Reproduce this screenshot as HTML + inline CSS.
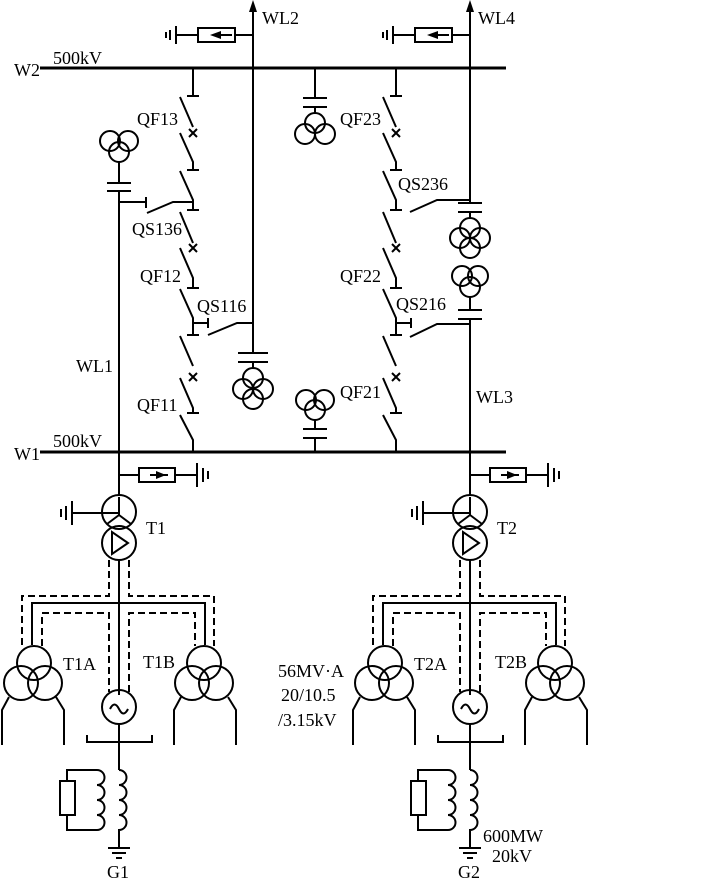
<!DOCTYPE html>
<html><head><meta charset="utf-8"><style>
html,body{margin:0;padding:0;background:#fff}
svg{display:block}
text{font-family:"Liberation Serif",serif;font-size:18px;fill:#000}
</style></head><body>
<svg width="720" height="882" viewBox="0 0 720 882" xmlns="http://www.w3.org/2000/svg">
<defs>
<g id="bot" fill="none" stroke="#000" stroke-width="2">
  <path d="M119,452 V495"/>
  <path d="M119,475 H139 M175,475 H197"/>
  <rect x="139" y="468" width="36" height="14"/>
  <path d="M150,475 H168" />
  <polygon points="166,475 156,471 156,479" fill="#000" stroke="none"/>
  <path d="M197,463 V487 M203,468 V482 M208,471 V479"/>
  <circle cx="119" cy="512" r="17"/>
  <circle cx="119" cy="543" r="17"/>
  <path d="M119,497 V515 L107,524 M119,515 L131,524"/>
  <path d="M119,513 H72 M72,501 V525 M66,506 V520 M61,509 V517"/>
  <polygon points="112,532 112,554 128,543"/>
  <path d="M119,560 V695"/>
  <path d="M32,645 V603 H205 V645"/>
  <path stroke-dasharray="7,4" d="M109,560 V596 H22 V646 M129,560 V596 H214 V646 M42,646 V613 H109 V692 M129,692 V613 H195 V646"/>
  <circle cx="34" cy="663" r="17"/>
  <circle cx="21" cy="683" r="17"/>
  <circle cx="45" cy="683" r="17"/>
  <path d="M9,697 L2,710 V745 M56,697 L64,710 V745"/>
  <circle cx="204" cy="663" r="17"/>
  <circle cx="192" cy="683" r="17"/>
  <circle cx="216" cy="683" r="17"/>
  <path d="M181,697 L174,710 V745 M228,697 L236,710 V745"/>
  <circle cx="119" cy="707" r="17"/>
  <path d="M110,709 q4.5,-9 9,0 t9,0"/>
  <path d="M87,735 V742 H152 V735 M119,724 V770"/>
  <path d="M119,770 a7.5,7.5 0 0 1 0,15 a7.5,7.5 0 0 1 0,15 a7.5,7.5 0 0 1 0,15 a7.5,7.5 0 0 1 0,15 V848"/>
  <path d="M97,770 a7.5,7.5 0 0 1 0,15 a7.5,7.5 0 0 1 0,15 a7.5,7.5 0 0 1 0,15 a7.5,7.5 0 0 1 0,15"/>
  <path d="M97,770 H67 V781 M67,815 V830 H97"/>
  <rect x="60" y="781" width="15" height="34"/>
  <path d="M108,848 H130 M112,853 H126 M116,858 H122"/>
</g>
<g id="arr" fill="none" stroke="#000" stroke-width="2">
  <path d="M253,35 H235 M198,35 H177"/>
  <rect x="198" y="28" width="37" height="14"/>
  <path d="M220,35 H232"/>
  <polygon points="210,35 221,31 221,39" fill="#000" stroke="none"/>
  <path d="M176,26 V44 M170,30 V40 M166,32 V38"/>
  <path d="M253,4 V14"/>
  <polygon points="253,0 249,12 257,12" fill="#000" stroke="none"/>
</g>
<g id="col" fill="none" stroke="#000" stroke-width="2">
  <path d="M193,68 V96 M187,96 H199"/>
  <path d="M180,97 L193,127 M189,129 L197,137 M197,129 L189,137"/>
  <path d="M180,133 L193,162 V170 M187,170 H199"/>
  <path d="M180,171 L193,200 V210 M187,210 H199"/>
  <path d="M180,212 L193,243 M189,244 L197,252 M197,244 L189,252"/>
  <path d="M180,248 L193,278 V288 M187,288 H199"/>
  <path d="M180,289 L193,318 V335 M187,335 H199"/>
  <path d="M180,336 L193,366 M189,373 L197,381 M197,373 L189,381"/>
  <path d="M180,378 L193,408 V413 M187,413 H199"/>
  <path d="M180,415 L193,440 V452"/>
  <path d="M193,323 H208 M208,318 V328"/>
</g>
</defs>

<g fill="none" stroke="#000" stroke-width="2">
  <path d="M40,68 H506" stroke-width="3"/>
  <path d="M40,452 H506" stroke-width="3"/>
</g>
<use href="#arr"/>
<use href="#arr" transform="translate(217,0)"/>
<use href="#col"/>
<use href="#col" transform="translate(203,0)"/>
<use href="#bot"/>
<use href="#bot" transform="translate(351,0)"/>

<g fill="none" stroke="#000" stroke-width="2">
  <!-- WL2 -->
  <path d="M253,10 V353"/>
  <path d="M238,353 H268 M238,362 H268 M253,362 V368"/>
  <circle cx="253" cy="378" r="10"/><circle cx="243" cy="389" r="10"/><circle cx="263" cy="389" r="10"/><circle cx="253" cy="399" r="10"/>
  <!-- QS116 -->
  <path d="M208,335 L237,323 H253"/>
  <!-- QS136 -->
  <path d="M119,202 H146 M146,197 V208 M147,213 L173,202 H193"/>
  <!-- WL1 -->
  <circle cx="110" cy="141" r="10"/><circle cx="128" cy="141" r="10"/><circle cx="119" cy="152" r="10"/>
  <path d="M119,162 V183 M107,183 H131 M107,191 H131 M119,191 V452"/>
  <!-- middle top -->
  <path d="M315,68 V98 M303,98 H327 M303,107 H327 M315,107 V113"/>
  <circle cx="315" cy="123" r="10"/><circle cx="305" cy="134" r="10"/><circle cx="325" cy="134" r="10"/>
  <!-- middle bottom -->
  <circle cx="306" cy="400" r="10"/><circle cx="324" cy="400" r="10"/><circle cx="315" cy="410" r="10"/>
  <path d="M315,420 V429 M303,429 H327 M303,438 H327 M315,438 V452"/>
  <!-- WL4 -->
  <path d="M470,10 V203 M458,203 H482 M458,212 H482 M470,212 V218"/>
  <circle cx="470" cy="228" r="10"/><circle cx="460" cy="238" r="10"/><circle cx="480" cy="238" r="10"/><circle cx="470" cy="248" r="10"/>
  <circle cx="462" cy="276" r="10"/><circle cx="478" cy="276" r="10"/><circle cx="470" cy="287" r="10"/>
  <path d="M470,297 V310 M458,310 H482 M458,319 H482 M470,319 V452"/>
  <!-- QS236 / QS216 -->
  <path d="M410,212 L437,200 H470"/>
  <path d="M410,337 L437,324 H470"/>
</g>

<text x="14" y="76">W2</text><text x="53" y="64">500kV</text>
<text x="14" y="460">W1</text><text x="53" y="447">500kV</text>
<text x="262" y="24">WL2</text><text x="478" y="24">WL4</text>
<text x="137" y="125">QF13</text><text x="340" y="125">QF23</text>
<text x="398" y="190">QS236</text><text x="132" y="235">QS136</text>
<text x="140" y="282">QF12</text><text x="340" y="282">QF22</text>
<text x="197" y="312">QS116</text><text x="396" y="310">QS216</text>
<text x="76" y="372">WL1</text><text x="476" y="403">WL3</text>
<text x="137" y="411">QF11</text><text x="340" y="398">QF21</text>
<text x="146" y="534">T1</text><text x="497" y="534">T2</text>
<text x="63" y="670">T1A</text><text x="143" y="668">T1B</text>
<text x="414" y="670">T2A</text><text x="495" y="668">T2B</text>
<text x="278" y="677">56MV·A</text><text x="281" y="701">20/10.5</text><text x="278" y="726">/3.15kV</text>
<text x="483" y="842">600MW</text><text x="492" y="862">20kV</text>
<text x="107" y="878">G1</text><text x="458" y="878">G2</text>
</svg>
</body></html>
